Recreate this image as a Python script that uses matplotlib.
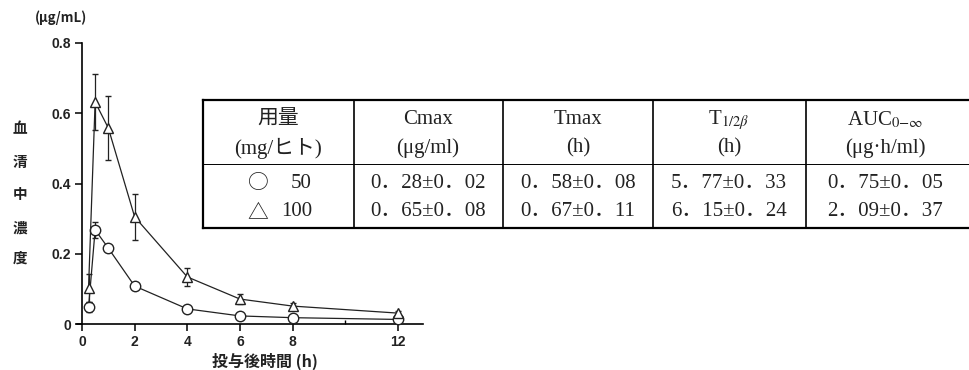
import matplotlib.pyplot as plt

plt.rcParams['mathtext.fontset'] = 'stix'

# serum concentration, mean +/- SD
time_h = [0.25, 0.5, 1, 2, 4, 6, 8, 12]
conc_50 = [0.048, 0.268, 0.216, 0.108, 0.043, 0.023, 0.018, 0.013]
sd_50 = [0.015, 0.022, 0.008, 0.006, 0.005, 0.004, 0.004, 0.003]
conc_100 = [0.103, 0.632, 0.558, 0.305, 0.134, 0.071, 0.051, 0.031]
sd_100 = [0.04, 0.08, 0.09, 0.065, 0.025, 0.015, 0.008, 0.006]

x_ticks = [0, 2, 4, 6, 8, 12]
y_ticks = [0, 0.2, 0.4, 0.6, 0.8]
y_ticklabels = ['0', '0.2', '0.4', '0.6', '0.8']

# pharmacokinetic parameters table
dose_marks = ['○', '△']
dose_values = ['50', '100']
table_header1 = ['用量', 'Cmax', 'Tmax', r'T$_{1/2\beta}$', r'AUC$_{0\mathrm{-}\infty}$']
table_header2 = ['(mg/ヒト)', '(μg/ml)', '(h)', '(h)', '(μg·h/ml)']
table_row_50 = ['0．28±0．02', '0．58±0．08', '5．77±0．33', '0．75±0．05']
table_row_100 = ['0．65±0．08', '0．67±0．11', '6．15±0．24', '2．09±0．37']

fig = plt.figure(figsize=(9.7, 3.7), dpi=100)
fig.patch.set_facecolor('white')

W, H = 970, 370
ax = fig.add_axes([76.7 / W, (H - 324) / H, 346.3 / W, 281 / H])
ax.set_xlim(-0.2, 12.95)
ax.set_ylim(0, 0.8)

line_kw = dict(color='#222222', lw=0.9, mfc='white', mec='#222222', mew=1.0,
               ms=7.5, capsize=2.5, elinewidth=0.9, capthick=0.9, clip_on=False)
ax.errorbar(time_h, conc_50, yerr=sd_50, marker='o', zorder=3, **line_kw)
ax.errorbar(time_h, conc_100, yerr=sd_100, marker='^', zorder=4, **line_kw)

ax.spines['top'].set_visible(False)
ax.spines['right'].set_visible(False)
ax.spines['left'].set_position(('data', 0))
ax.spines['left'].set_linewidth(1.2)
ax.spines['bottom'].set_linewidth(1.2)

ax.set_xticks(x_ticks)
ax.set_xticklabels([str(t) for t in x_ticks])
ax.set_xticks([10], minor=True)
ax.set_yticks(y_ticks)
ax.set_yticklabels(y_ticklabels)
ax.tick_params(axis='both', which='major', direction='out', length=5, width=1.1,
               labelsize=10, pad=3)
ax.tick_params(axis='x', which='minor', direction='in', length=3, width=1.0)
for lab in ax.get_xticklabels() + ax.get_yticklabels():
    lab.set_fontweight('bold')
    lab.set_family(['Liberation Sans', 'DejaVu Sans'])
    lab.set_color('#222222')

# axis labels
cjk = ['Noto Sans CJK JP', 'DejaVu Sans']
fig.text(35 / W, 1 - 18 / H, '(μg/mL)', fontsize=9.5, fontweight='bold',
         family=cjk, ha='left', va='center', color='#222222')
for ch, yy in zip('血清中濃度', [128, 162, 194, 228, 258]):
    fig.text(20 / W, 1 - yy / H, ch, fontsize=10.5, fontweight='bold',
             family=cjk, ha='center', va='center', color='#222222')
fig.text(265 / W, 1 - 361 / H, '投与後時間 (h)', fontsize=11.5, fontweight='bold',
         family=cjk, ha='center', va='center', color='#222222')

# table drawn on an overlay axes in pixel units
tab = fig.add_axes([0, 0, 1, 1], facecolor='none')
tab.set_xlim(0, W)
tab.set_ylim(H, 0)
tab.axis('off')

t_left, t_right, t_top, t_mid, t_bot = 203, 975, 100, 164, 228
col_sep = [354, 503, 653, 806]
col_center = [278, 428, 578, 729, 885]
tab.plot([t_left, t_right], [t_top, t_top], color='black', lw=1.6, clip_on=False)
tab.plot([t_left, t_right], [t_bot, t_bot], color='black', lw=1.6, clip_on=False)
tab.plot([t_left, t_left], [t_top, t_bot], color='black', lw=1.6)
tab.plot([t_left, t_right], [t_mid, t_mid], color='black', lw=0.7, clip_on=False)
for xs in col_sep:
    tab.plot([xs, xs], [t_top, t_bot], color='black', lw=1.2)

serif = ['Liberation Serif', 'Noto Sans CJK JP']
txt_kw = dict(fontsize=15, family=serif, va='center', color='#222222')
for xc, h1, h2 in zip(col_center, table_header1, table_header2):
    tab.text(xc, 120, h1, ha='center', **txt_kw)
    tab.text(xc, 148, h2, ha='center', **txt_kw)
for xc, r1, r2 in zip(col_center[1:], table_row_50, table_row_100):
    tab.text(xc, 183, r1, ha='center', **txt_kw)
    tab.text(xc, 212, r2, ha='center', **txt_kw)
for yy, mark, dose in zip([183, 212], dose_marks, dose_values):
    tab.text(258, yy, mark, ha='center', fontsize=15, family=['Noto Sans CJK JP'],
             va='center', color='#222222')
    tab.text(312, yy, dose, ha='right', **txt_kw)

fig.savefig('out.png', dpi=100)
